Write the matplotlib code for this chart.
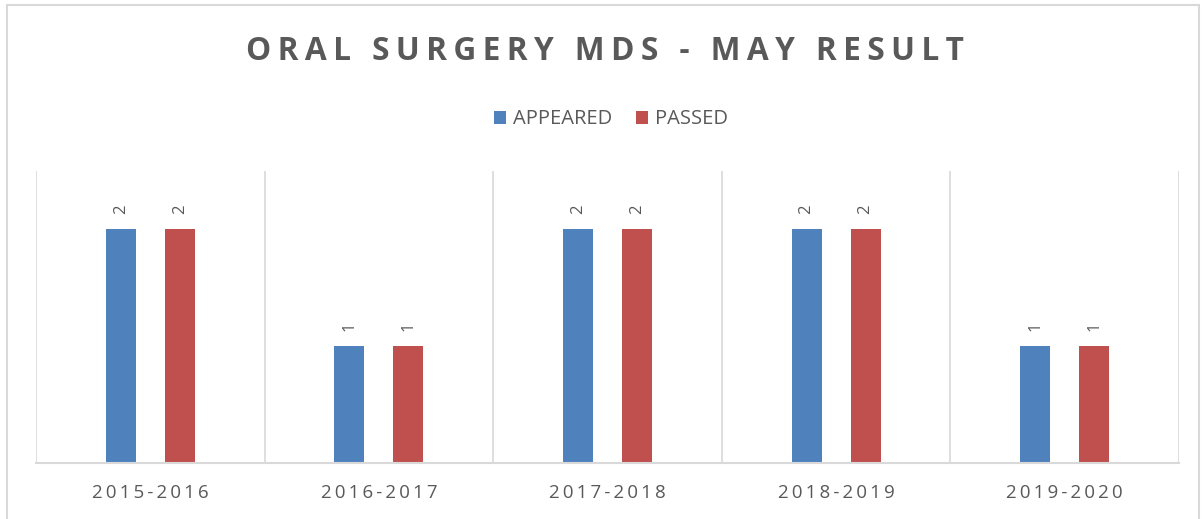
import matplotlib
matplotlib.use("Agg")
import matplotlib.pyplot as plt
from matplotlib.patches import Rectangle
import numpy as np

categories = ["2015-2016", "2016-2017", "2017-2018", "2018-2019", "2019-2020"]
appeared = [2, 1, 2, 2, 1]
passed = [2, 1, 2, 2, 1]
series_names = ["APPEARED", "PASSED"]
title = "ORAL SURGERY MDS - MAY RESULT"

W, H = 1203, 519
fig = plt.figure(figsize=(W / 100, H / 100), dpi=100)
fig.patch.set_facecolor("white")

def spaced(s, sep="\u2009"):
    return sep.join(s)

# outer chart border
fig.patches.append(Rectangle((7 / W, -0.05), (1199 - 7) / W, 1 - 5 / H + 0.05,
                             transform=fig.transFigure, fill=False,
                             edgecolor="#d9d9d9", linewidth=1.5))

left, right, bottom, top = 36, 1179, 463, 170.5
ax = fig.add_axes([left / W, 1 - bottom / H, (right - left) / W, (bottom - top) / H])
ax.set_facecolor("white")

blue = "#4f81bd"
red = "#c0504d"
x = np.arange(len(categories))
bw = 0.131
off = 0.129
b1 = ax.bar(x - off, appeared, bw, color=blue, label=series_names[0])
b2 = ax.bar(x + off, passed, bw, color=red, label=series_names[1])

for bars in (b1, b2):
    for rect in bars:
        h = rect.get_height()
        ax.annotate(str(int(h)), (rect.get_x() + rect.get_width() / 2, h),
                    xytext=(0, 11), textcoords="offset points",
                    ha="center", va="bottom", rotation=90,
                    fontsize=12, color="#595959", family="Open Sans")

ax.set_xlim(-0.5, len(categories) - 0.5)
ax.set_ylim(0, 2.5)
ax.set_yticks([])
for b in np.arange(len(categories) + 1) - 0.5:
    ax.axvline(b, color="#d9d9d9", linewidth=1.2, zorder=0)
for s in ["top", "right", "left"]:
    ax.spines[s].set_visible(False)
ax.spines["bottom"].set_color("#d9d9d9")
ax.spines["bottom"].set_linewidth(1.5)
ax.set_xticks(x)
ax.set_xticklabels([spaced(c) for c in categories], fontsize=13.5,
                   color="#595959", family="Open Sans")
ax.tick_params(axis="x", length=0, pad=15)

fig.text(605 / W, 1 - 52 / H, spaced(title, "\u2009"), ha="center", va="center",
         fontsize=22.8, fontweight="bold", color="#595959", family="Open Sans")

leg = fig.legend(handles=[b1, b2], labels=series_names, loc="center",
                 bbox_to_anchor=(611 / W, 1 - 119.5 / H), ncol=2, frameon=False,
                 handlelength=0.6, handleheight=0.6, handletextpad=0.35,
                 columnspacing=1.2,
                 prop={"family": "Open Sans", "size": 14.5})
for t in leg.get_texts():
    t.set_color("#595959")

fig.savefig("out.png", dpi=100, facecolor="white")
